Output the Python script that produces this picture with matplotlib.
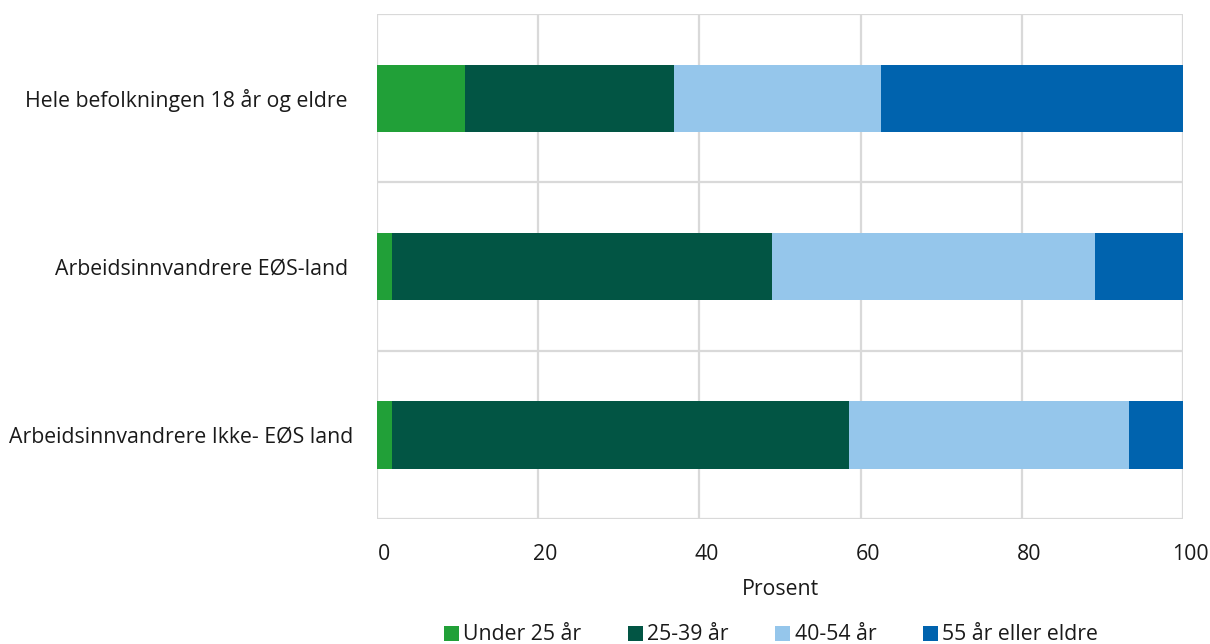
import matplotlib
matplotlib.use("Agg")
import matplotlib.pyplot as plt
from matplotlib.patches import Patch
from matplotlib.transforms import ScaledTranslation

plt.rcParams['font.family'] = ['Open Sans', 'DejaVu Sans']

categories = ["Hele befolkningen 18 år og eldre ",
              "Arbeidsinnvandrere EØS-land ",
              "Arbeidsinnvandrere Ikke- EØS land"]
series_names = ["Under 25 år", "25-39 år", "40-54 år", "55 år eller eldre"]
under25 = [10.9, 1.9, 1.9]
age25_39 = [25.9, 47.1, 56.7]
age40_54 = [25.7, 40.1, 34.7]
age55plus = [37.5, 10.9, 6.7]
series = [under25, age25_39, age40_54, age55plus]
colors = ["#21a038", "#025544", "#95c6eb", "#0063ae"]
xticks = [0, 20, 40, 60, 80, 100]

FS = 15.3
TC = "#1a1a1a"
fig = plt.figure(figsize=(12.10, 6.44), dpi=100)
ax = fig.add_axes([377/1210, 1-519/644, (1183-377)/1210, (519-14)/644])

ypos = list(range(len(categories)))
left = [0.0]*len(categories)
for vals, col, name in zip(series, colors, series_names):
    ax.barh(ypos, vals, left=left, height=0.4, color=col, label=name, zorder=3)
    left = [l+v for l, v in zip(left, vals)]

ax.set_ylim(len(categories)-0.5, -0.5)
ax.set_xlim(0, 100)
ax.set_xticks(xticks)
ax.set_xticklabels([str(t) for t in xticks], fontsize=FS, color=TC)
ax.set_yticks(ypos)
ax.set_yticklabels(categories, fontsize=FS, color=TC)
ax.tick_params(axis='both', length=0)
ax.tick_params(axis='x', pad=18)
ax.tick_params(axis='y', pad=17)
off = ScaledTranslation(7/100, 0, fig.dpi_scale_trans)
for lbl in ax.get_xticklabels():
    lbl.set_transform(lbl.get_transform() + off)

gc = "#d9d9d9"
for x in xticks:
    ax.axvline(x, color=gc, lw=1.6, zorder=1)
for b in [-0.5, 0.5, 1.5, 2.5]:
    ax.axhline(b, color=gc, lw=1.6, zorder=1)
for s in ax.spines.values():
    s.set_visible(False)

ax.set_xlabel("Prosent", fontsize=FS, color=TC, labelpad=10)

handles = [Patch(facecolor=c, edgecolor='none') for c in colors]
fig.legend(handles, series_names, loc='center', bbox_to_anchor=(771/1210, 1-635/644),
           ncol=4, frameon=False, fontsize=FS, handlelength=0.7, handleheight=0.7,
           handletextpad=0.2, columnspacing=2.2, labelcolor=TC,
           borderpad=0, borderaxespad=0)

fig.savefig("out.png", dpi=100)
